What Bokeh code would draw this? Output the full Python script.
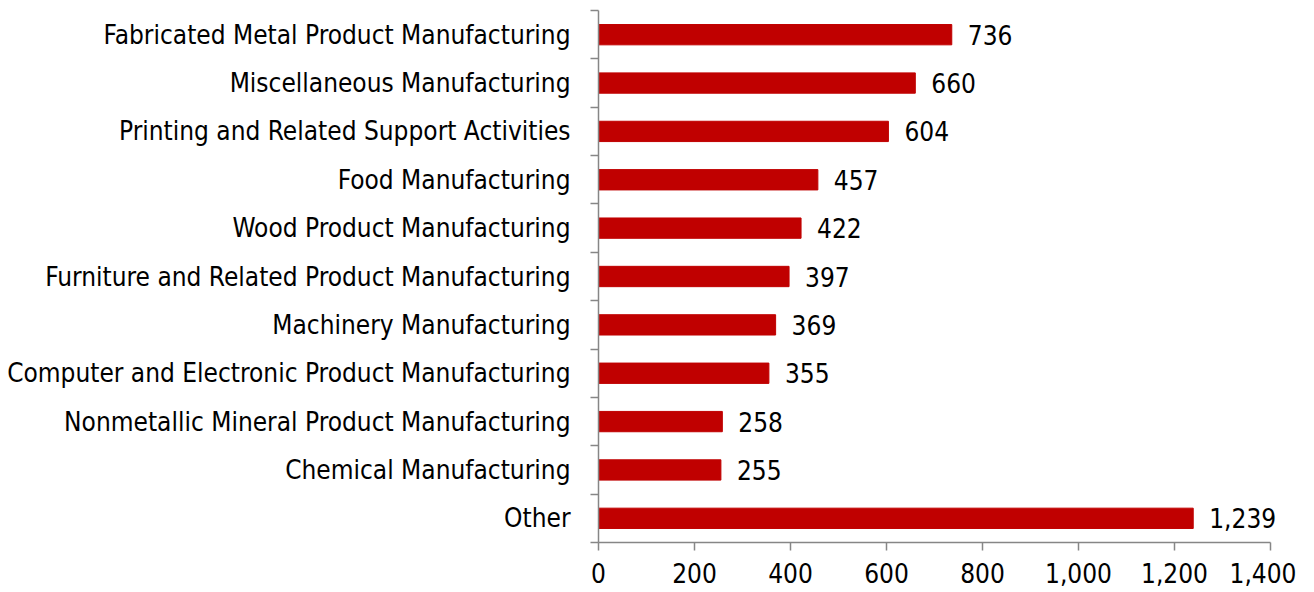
from bokeh.plotting import figure
from bokeh.models import ColumnDataSource, FixedTicker, NumeralTickFormatter, Range1d
from bokeh.core.properties import value
from bokeh.embed import file_html
from bokeh.resources import INLINE

categories = [
    "Fabricated Metal Product Manufacturing",
    "Miscellaneous Manufacturing",
    "Printing and Related Support Activities",
    "Food Manufacturing",
    "Wood Product Manufacturing",
    "Furniture and Related Product Manufacturing",
    "Machinery Manufacturing",
    "Computer and Electronic Product Manufacturing",
    "Nonmetallic Mineral Product Manufacturing",
    "Chemical Manufacturing",
    "Other",
]
values = [736, 660, 604, 457, 422, 397, 369, 355, 258, 255, 1239]
x_ticks = [0, 200, 400, 600, 800, 1000, 1200, 1400]

FONT = "DejaVu Sans Condensed"
FS = "26px"
n = len(categories)
ypos = [n - i - 0.5 for i in range(n)]
labels = [f"{v:,}" for v in values]

src = ColumnDataSource(dict(y=ypos, v=values, lab=labels))

p = figure(width=1296, height=590, output_backend="svg", toolbar_location=None,
           x_range=Range1d(0, 1450), y_range=Range1d(0, n),
           min_border_left=598, min_border_right=2, min_border_top=10, min_border_bottom=48)
p.outline_line_color = None
p.xgrid.visible = False
p.ygrid.visible = False

p.hbar(y="y", right="v", left=0, height=0.42, color="#C00000", source=src)
p.text(x="v", y="y", text="lab", source=src, x_offset=16, text_baseline="middle",
       text_align="left", text_font=value(FONT), text_font_size=FS, text_color="#000000")

AX = "#868686"
yax = p.yaxis[0]
yax.ticker = FixedTicker(ticks=ypos, minor_ticks=list(range(n + 1)))
yax.major_label_overrides = {y: c for y, c in zip(ypos, categories)}
yax.major_tick_line_color = None
yax.major_tick_out = 0
yax.major_tick_in = 0
yax.minor_tick_line_color = AX
yax.minor_tick_out = 8
yax.minor_tick_in = 0
yax.axis_line_color = AX
yax.axis_line_width = 1.5
yax.minor_tick_line_width = 1.5
yax.major_label_standoff = 20
yax.major_label_text_font = FONT
yax.major_label_text_font_size = FS
yax.major_label_text_color = "#000000"

xax = p.xaxis[0]
xax.bounds = (0, 1400)
xax.ticker = FixedTicker(ticks=x_ticks)
xax.formatter = NumeralTickFormatter(format="0,0")
xax.major_tick_line_color = AX
xax.major_tick_out = 8
xax.major_tick_in = 0
xax.minor_tick_line_color = None
xax.axis_line_color = AX
xax.axis_line_width = 1.5
xax.major_tick_line_width = 1.5
xax.major_label_standoff = 12
xax.major_label_text_font = FONT
xax.major_label_text_font_size = FS
xax.major_label_text_color = "#000000"

open("out.html", "w").write(file_html(p, INLINE))
